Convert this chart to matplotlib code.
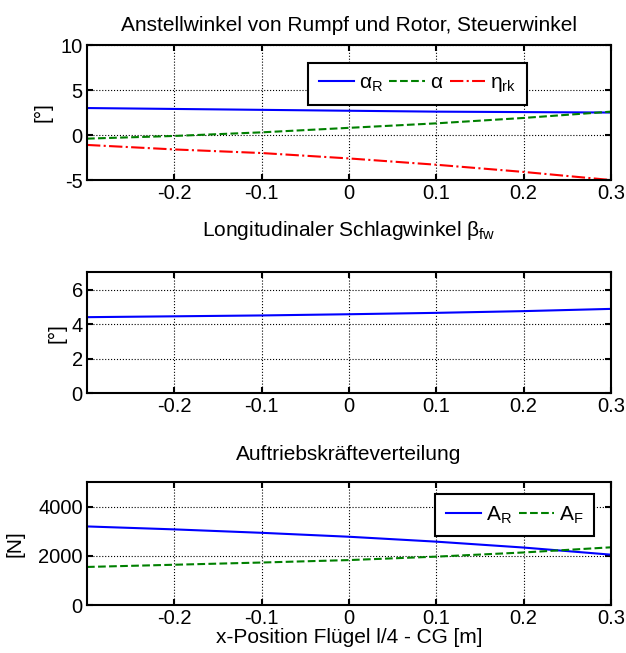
import matplotlib
matplotlib.use("Agg")
import matplotlib.pyplot as plt

x_pos = [-0.3, -0.2, -0.1, 0.0, 0.1, 0.2, 0.3]

alpha_r = [3.0, 2.9, 2.8, 2.7, 2.6, 2.55, 2.5]
alpha = [-0.4, -0.1, 0.3, 0.8, 1.3, 1.9, 2.6]
eta_rk = [-1.1, -1.6, -2.0, -2.6, -3.3, -4.1, -5.0]

beta_fw = [4.4, 4.45, 4.5, 4.57, 4.65, 4.75, 4.88]

lift_rotor = [3200, 3080, 2940, 2780, 2580, 2340, 2050]
lift_wing = [1550, 1640, 1730, 1830, 1970, 2140, 2350]

x_ticks = [-0.2, -0.1, 0, 0.1, 0.2, 0.3]
x_tick_labels = ["-0.2", "-0.1", "0", "0.1", "0.2", "0.3"]

FS = 15

plt.rcParams["font.family"] = ["Liberation Sans", "DejaVu Sans"]
plt.rcParams["mathtext.fontset"] = "custom"
plt.rcParams["mathtext.rm"] = "Liberation Sans"
plt.rcParams["mathtext.it"] = "Liberation Sans"

fig = plt.figure(figsize=(6.26, 6.53), dpi=100)
ax1 = fig.add_axes([0.139, 0.7243, 0.837, 0.2067])
ax2 = fig.add_axes([0.139, 0.398, 0.837, 0.185])
ax3 = fig.add_axes([0.139, 0.0735, 0.837, 0.188])


def style_axes(ax, y_ticks, y_labels, y_lim, y_label, label_x):
    ax.set_xlim(-0.3, 0.3)
    ax.set_ylim(*y_lim)
    ax.set_xticks(x_ticks)
    ax.set_xticklabels(x_tick_labels)
    ax.set_yticks(y_ticks)
    ax.set_yticklabels(y_labels)
    ax.grid(True, color="black", linestyle=":", linewidth=0.8)
    ax.tick_params(direction="in", top=True, right=True, labelsize=14.5,
                   width=1.5, length=4, pad=3)
    for spine in ax.spines.values():
        spine.set_linewidth(1.5)
    ax.set_ylabel(y_label, fontsize=FS)
    ax.yaxis.set_label_coords(label_x, 0.5)


def make_legend(ax, ncol, loc, anchor):
    leg = ax.legend(ncol=ncol, loc=loc, bbox_to_anchor=anchor, fontsize=FS,
                    fancybox=False, edgecolor="black", framealpha=1,
                    handlelength=1.7, columnspacing=0.3, handletextpad=0.25,
                    borderpad=0.5, borderaxespad=0)
    leg.get_frame().set_linewidth(1.5)
    return leg


ax1.plot(x_pos, alpha_r, color="blue", linewidth=1.5, label=r"$\alpha_\mathrm{R}$")
ax1.plot(x_pos, alpha, color="green", linestyle="--", linewidth=1.5, label=r"$\alpha$")
ax1.plot(x_pos, eta_rk, color="red", linestyle="-.", linewidth=1.5, label=r"$\eta_\mathrm{rk}$")
style_axes(ax1, [-5, 0, 5, 10], ["-5", "0", "5", "10"], (-5, 10), "[°]", -0.065)
ax1.set_title("Anstellwinkel von Rumpf und Rotor, Steuerwinkel", fontsize=FS, pad=10)
make_legend(ax1, 3, "upper left", (0.422, 0.867))

ax2.plot(x_pos, beta_fw, color="blue", linewidth=1.5)
style_axes(ax2, [0, 2, 4, 6], ["0", "2", "4", "6"], (0, 7), "[°]", -0.040)
ax2.set_title(r"Longitudinaler Schlagwinkel $\beta_\mathrm{fw}$", fontsize=FS, pad=26)

ax3.plot(x_pos, lift_rotor, color="blue", linewidth=1.5, label=r"A$_\mathrm{R}$")
ax3.plot(x_pos, lift_wing, color="green", linestyle="--", linewidth=1.5, label=r"A$_\mathrm{F}$")
style_axes(ax3, [0, 2000, 4000], ["0", "2000", "4000"], (0, 5000), "[N]", -0.12)
ax3.set_title("Auftriebskräfteverteilung", fontsize=FS, pad=16)
ax3.set_xlabel("x-Position Flügel l/4 - CG [m]", fontsize=FS, labelpad=0)
make_legend(ax3, 2, "upper right", (0.968, 0.902))

fig.savefig("out.png", dpi=100)
